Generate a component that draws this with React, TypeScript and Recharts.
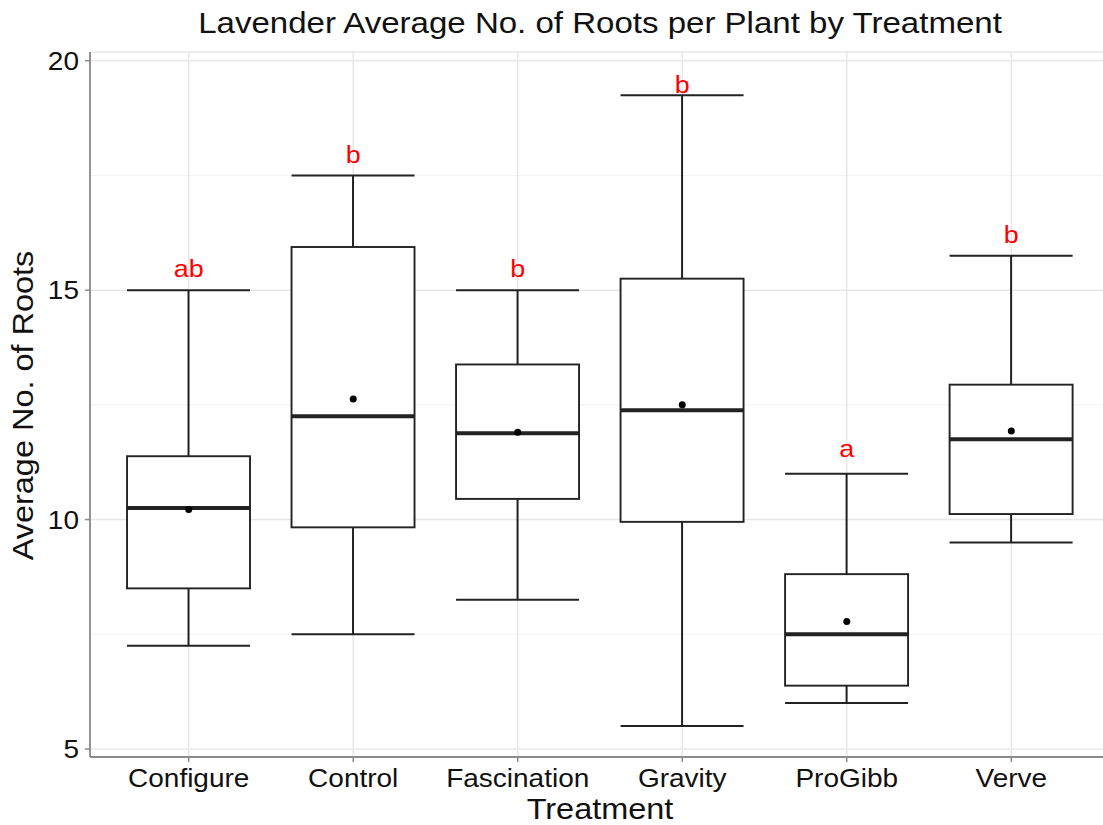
import React from 'react';
import { ComposedChart, Bar, Line, XAxis, YAxis, CartesianGrid } from 'recharts';

const categories = ['Configure', 'Control', 'Fascination', 'Gravity', 'ProGibb', 'Verve'];
const lowWhisker = [7.25, 7.5, 8.25, 5.5, 6.0, 9.5];
const q1Values = [8.5, 9.83, 10.45, 9.95, 6.38, 10.12];
const medianValues = [10.25, 12.25, 11.88, 12.38, 7.5, 11.75];
const q3Values = [11.38, 15.94, 13.38, 15.25, 8.81, 12.94];
const highWhisker = [15.0, 17.5, 15.0, 19.25, 11.0, 15.75];
const meanValues = [10.22, 12.63, 11.9, 12.5, 7.78, 11.93];
const letters = ['ab', 'b', 'b', 'b', 'a', 'b'];
const letterY = [15.29, 17.77, 15.29, 19.3, 11.36, 16.03];
const yTicks = [5, 10, 15, 20];
const yMinorTicks = [7.5, 12.5, 17.5];

const rows = categories.map((name, i) => ({
  name,
  low: lowWhisker[i],
  q1: q1Values[i],
  median: medianValues[i],
  q3: q3Values[i],
  high: highWhisker[i],
  range: [lowWhisker[i], highWhisker[i]],
  mean: meanValues[i],
  letterY: letterY[i],
}));

const FONT = '"Liberation Sans", Arial, Helvetica, sans-serif';
const SX = 1.12;
const INK = '#111111';
const BORDER = '#8a8a8a';
const BOX = '#222222';

function SText(props: any) {
  const { x, y, size, anchor = 'middle', rotate = 0, fill = INK, children } = props;
  const t = `translate(${x},${y})` + (rotate ? ` rotate(${rotate})` : '') + ` scale(${SX},1)`;
  return (
    <text transform={t} x={0} y={0} textAnchor={anchor} fontSize={size} fontFamily={FONT} fill={fill}>
      {children}
    </text>
  );
}

function BoxShape(props: any) {
  const { x, y, width, height, payload } = props;
  if (!payload) return null;
  const top = Math.min(y, y + height);
  const bot = Math.max(y, y + height);
  const { low, q1, median, q3, high } = payload;
  const py = (v: number) => bot - ((v - low) / (high - low)) * (bot - top);
  const cx = x + width / 2;
  const x0 = x;
  const x1 = x + width;
  return (
    <g>
      <line x1={cx} x2={cx} y1={py(high)} y2={py(q3)} stroke={BOX} strokeWidth={2} />
      <line x1={cx} x2={cx} y1={py(q1)} y2={py(low)} stroke={BOX} strokeWidth={2} />
      <line x1={x0} x2={x1} y1={py(high)} y2={py(high)} stroke={BOX} strokeWidth={2} />
      <line x1={x0} x2={x1} y1={py(low)} y2={py(low)} stroke={BOX} strokeWidth={2} />
      <rect x={x0} y={py(q3)} width={width} height={py(q1) - py(q3)} fill="#ffffff" stroke={BOX} strokeWidth={1.9} />
      <line x1={x0} x2={x1} y1={py(median)} y2={py(median)} stroke={BOX} strokeWidth={4} />
    </g>
  );
}

function LetterDot(props: any) {
  const { cx, cy, index } = props;
  return (
    <SText key={`lt-${index}`} x={cx} y={cy} size={24} fill="#ff0000">
      {letters[index]}
    </SText>
  );
}

export default function App() {
  return (
    <div style={{ position: 'absolute', left: 0, top: 0, width: 1103, height: 825, overflow: 'hidden', background: '#ffffff' }}>
      <ComposedChart
        width={1120}
        height={825}
        data={rows}
        margin={{ top: 52, right: 10, left: 0, bottom: 0 }}
        barCategoryGap="12.5%"
      >
        <CartesianGrid horizontalValues={yMinorTicks} vertical={false} stroke="#f3f3f3" strokeWidth={1} />
        <CartesianGrid stroke="#e8e8e8" strokeWidth={1.5} />
        <XAxis
          dataKey="name"
          type="category"
          padding={{ left: 16.45, right: 16.45 }}
          height={68}
          interval={0}
          tickSize={5}
          tickMargin={4}
          axisLine={{ stroke: BORDER, strokeWidth: 1.8 }}
          tickLine={{ stroke: BORDER, strokeWidth: 1.5 }}
          tick={(p: any) => (
            <SText key={`xt-${p.index}`} x={p.x} y={p.y + 21} size={25}>
              {p.payload.value}
            </SText>
          )}
        />
        <XAxis
          xAxisId="top"
          orientation="top"
          dataKey="name"
          type="category"
          padding={{ left: 16.45, right: 16.45 }}
          height={0}
          tick={false}
          tickLine={false}
          axisLine={{ stroke: BORDER, strokeWidth: 1.8 }}
        />
        <YAxis
          type="number"
          domain={[4.825, 20.19]}
          allowDataOverflow
          ticks={yTicks}
          width={90}
          tickSize={5}
          tickMargin={6}
          axisLine={{ stroke: BORDER, strokeWidth: 1.8 }}
          tickLine={{ stroke: BORDER, strokeWidth: 1.5 }}
          tick={(p: any) => (
            <SText key={`yt-${p.index}`} x={p.x} y={p.y + 9} size={25} anchor="end">
              {p.payload.value}
            </SText>
          )}
        />
        <Bar dataKey="range" shape={BoxShape} isAnimationActive={false} />
        <Line
          dataKey="mean"
          stroke="none"
          dot={{ r: 3.5, fill: '#000000', stroke: 'none' }}
          activeDot={false}
          isAnimationActive={false}
        />
        <Line dataKey="letterY" stroke="none" dot={LetterDot} activeDot={false} isAnimationActive={false} />
        <SText x={600} y={33} size={29.5}>
          Lavender Average No. of Roots per Plant by Treatment
        </SText>
        <SText x={600} y={819} size={29}>
          Treatment
        </SText>
        <SText x={33} y={405.5} size={29} rotate={-90}>
          Average No. of Roots
        </SText>
      </ComposedChart>
    </div>
  );
}
